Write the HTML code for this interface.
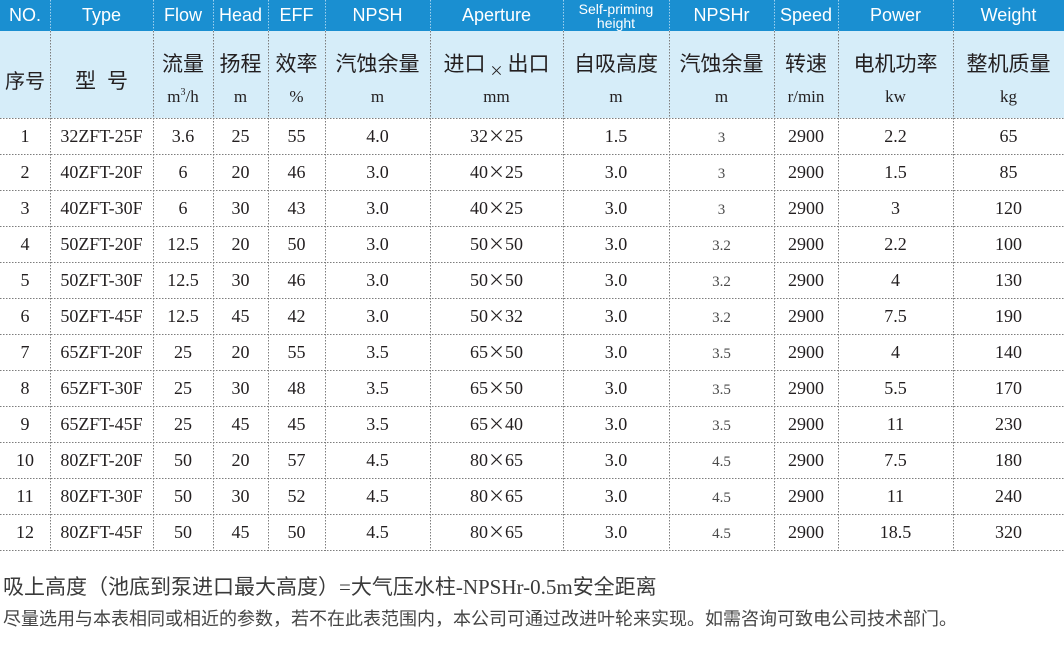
<!DOCTYPE html>
<html><head><meta charset="utf-8">
<style>
html,body{margin:0;padding:0;background:#fff;}
body{width:1064px;height:650px;overflow:hidden;position:relative;}
.abs{position:absolute;}
.bar1{left:0;top:0;width:1064px;height:31px;background:#1a8fd1;}
.bar2{left:0;top:31px;width:1064px;height:87px;background:#d6edf9;}
.row{position:absolute;left:0;width:1064px;display:flex;}
.row>div{flex:none;text-align:center;white-space:nowrap;}
.c0{width:50px}.c1{width:103px}.c2{width:60px}.c3{width:55px}.c4{width:57px}.c5{width:105px}
.c6{width:133px}.c7{width:106px}.c8{width:105px}.c9{width:64px}.c10{width:115px}.c11{width:111px}
.h1{top:0;height:31px;line-height:31px;color:#fff;font-family:"Liberation Sans",sans-serif;font-size:18px;}
.h1 .sp{font-size:14px;line-height:14px;padding-top:2px;box-sizing:border-box;}
.h2{top:50px;height:26px;line-height:26px;color:#231f20;font-family:"Noto Sans CJK SC",sans-serif;font-size:21px;}
.h3{top:87px;height:20px;line-height:20px;color:#231f20;font-family:"Liberation Serif",serif;font-size:17px;}
.h3 sup{font-size:10px;vertical-align:7px;line-height:0;}
.d{height:36px;line-height:36px;color:#231f20;font-family:"Liberation Serif",serif;font-size:18px;}
.d .c8{font-size:15px;color:#4a4a4a;padding-top:2px;box-sizing:border-box;}
.x{font-family:"Noto Sans CJK SC",sans-serif;font-size:17px;line-height:0;}
.note1{left:3px;top:574px;height:26px;line-height:26px;font-size:21px;color:#3a3a3a;font-family:"Liberation Serif","Noto Sans CJK SC",sans-serif;white-space:nowrap;}
.note1 .cj{font-family:"Noto Sans CJK SC",sans-serif;line-height:0;}
.note2{left:3px;top:606px;height:24px;line-height:24px;font-size:18px;color:#454545;font-family:"Noto Sans CJK SC",sans-serif;white-space:nowrap;}
</style></head>
<body>
<div class="abs bar1"></div>
<div class="abs bar2"></div>

<svg class="abs" style="left:0;top:0" width="1064" height="560" viewBox="0 0 1064 560">
<g stroke="#9fd0ef" stroke-width="1" stroke-dasharray="1.3 1.7" shape-rendering="crispEdges">
<line x1="50.5" y1="0" x2="50.5" y2="31"/><line x1="153.5" y1="0" x2="153.5" y2="31"/><line x1="213.5" y1="0" x2="213.5" y2="31"/><line x1="268.5" y1="0" x2="268.5" y2="31"/><line x1="325.5" y1="0" x2="325.5" y2="31"/><line x1="430.5" y1="0" x2="430.5" y2="31"/><line x1="563.5" y1="0" x2="563.5" y2="31"/><line x1="669.5" y1="0" x2="669.5" y2="31"/><line x1="774.5" y1="0" x2="774.5" y2="31"/><line x1="838.5" y1="0" x2="838.5" y2="31"/><line x1="953.5" y1="0" x2="953.5" y2="31"/>
</g>
<g stroke="#7d7d7d" stroke-width="1" stroke-dasharray="1.3 1.7" shape-rendering="crispEdges">
<line x1="50.5" y1="31" x2="50.5" y2="551"/><line x1="153.5" y1="31" x2="153.5" y2="551"/><line x1="213.5" y1="31" x2="213.5" y2="551"/><line x1="268.5" y1="31" x2="268.5" y2="551"/><line x1="325.5" y1="31" x2="325.5" y2="551"/><line x1="430.5" y1="31" x2="430.5" y2="551"/><line x1="563.5" y1="31" x2="563.5" y2="551"/><line x1="669.5" y1="31" x2="669.5" y2="551"/><line x1="774.5" y1="31" x2="774.5" y2="551"/><line x1="838.5" y1="31" x2="838.5" y2="551"/><line x1="953.5" y1="31" x2="953.5" y2="551"/>
<line x1="0" y1="118.5" x2="1064" y2="118.5"/><line x1="0" y1="154.5" x2="1064" y2="154.5"/><line x1="0" y1="190.5" x2="1064" y2="190.5"/><line x1="0" y1="226.5" x2="1064" y2="226.5"/><line x1="0" y1="262.5" x2="1064" y2="262.5"/><line x1="0" y1="298.5" x2="1064" y2="298.5"/><line x1="0" y1="334.5" x2="1064" y2="334.5"/><line x1="0" y1="370.5" x2="1064" y2="370.5"/><line x1="0" y1="406.5" x2="1064" y2="406.5"/><line x1="0" y1="442.5" x2="1064" y2="442.5"/><line x1="0" y1="478.5" x2="1064" y2="478.5"/><line x1="0" y1="514.5" x2="1064" y2="514.5"/><line x1="0" y1="550.5" x2="1064" y2="550.5"/>
</g>
</svg>

<div class="row h1">
<div class="c0">NO.</div><div class="c1">Type</div><div class="c2">Flow</div><div class="c3">Head</div><div class="c4">EFF</div><div class="c5">NPSH</div><div class="c6">Aperture</div><div class="c7 sp">Self-priming<br>height</div><div class="c8">NPSHr</div><div class="c9">Speed</div><div class="c10">Power</div><div class="c11">Weight</div>
</div>

<div class="abs" style="left:0;top:67px;width:50px;height:26px;line-height:26px;text-align:center;font-family:'Noto Sans CJK SC',sans-serif;font-size:20px;color:#231f20;">序号</div>
<div class="abs" style="left:50px;top:67px;width:103px;height:26px;line-height:26px;text-align:center;font-family:'Noto Sans CJK SC',sans-serif;font-size:21px;color:#231f20;">型<span style="display:inline-block;width:11px"></span>号</div>

<div class="row h2">
<div class="c0"></div><div class="c1"></div><div class="c2">流量</div><div class="c3">扬程</div><div class="c4">效率</div><div class="c5">汽蚀余量</div><div class="c6">进口<span style="font-size:14px;position:relative;top:5px;margin:0 4px;">×</span>出口</div><div class="c7">自吸高度</div><div class="c8">汽蚀余量</div><div class="c9">转速</div><div class="c10">电机功率</div><div class="c11">整机质量</div>
</div>
<div class="row h3">
<div class="c0"></div><div class="c1"></div><div class="c2">m<sup>3</sup>/h</div><div class="c3">m</div><div class="c4">%</div><div class="c5">m</div><div class="c6">mm</div><div class="c7">m</div><div class="c8">m</div><div class="c9">r/min</div><div class="c10">kw</div><div class="c11">kg</div>
</div>

<div class="row d" style="top:118px"><div class="c0">1</div><div class="c1">32ZFT-25F</div><div class="c2">3.6</div><div class="c3">25</div><div class="c4">55</div><div class="c5">4.0</div><div class="c6">32<span class="x">×</span>25</div><div class="c7">1.5</div><div class="c8">3</div><div class="c9">2900</div><div class="c10">2.2</div><div class="c11">65</div></div>
<div class="row d" style="top:154px"><div class="c0">2</div><div class="c1">40ZFT-20F</div><div class="c2">6</div><div class="c3">20</div><div class="c4">46</div><div class="c5">3.0</div><div class="c6">40<span class="x">×</span>25</div><div class="c7">3.0</div><div class="c8">3</div><div class="c9">2900</div><div class="c10">1.5</div><div class="c11">85</div></div>
<div class="row d" style="top:190px"><div class="c0">3</div><div class="c1">40ZFT-30F</div><div class="c2">6</div><div class="c3">30</div><div class="c4">43</div><div class="c5">3.0</div><div class="c6">40<span class="x">×</span>25</div><div class="c7">3.0</div><div class="c8">3</div><div class="c9">2900</div><div class="c10">3</div><div class="c11">120</div></div>
<div class="row d" style="top:226px"><div class="c0">4</div><div class="c1">50ZFT-20F</div><div class="c2">12.5</div><div class="c3">20</div><div class="c4">50</div><div class="c5">3.0</div><div class="c6">50<span class="x">×</span>50</div><div class="c7">3.0</div><div class="c8">3.2</div><div class="c9">2900</div><div class="c10">2.2</div><div class="c11">100</div></div>
<div class="row d" style="top:262px"><div class="c0">5</div><div class="c1">50ZFT-30F</div><div class="c2">12.5</div><div class="c3">30</div><div class="c4">46</div><div class="c5">3.0</div><div class="c6">50<span class="x">×</span>50</div><div class="c7">3.0</div><div class="c8">3.2</div><div class="c9">2900</div><div class="c10">4</div><div class="c11">130</div></div>
<div class="row d" style="top:298px"><div class="c0">6</div><div class="c1">50ZFT-45F</div><div class="c2">12.5</div><div class="c3">45</div><div class="c4">42</div><div class="c5">3.0</div><div class="c6">50<span class="x">×</span>32</div><div class="c7">3.0</div><div class="c8">3.2</div><div class="c9">2900</div><div class="c10">7.5</div><div class="c11">190</div></div>
<div class="row d" style="top:334px"><div class="c0">7</div><div class="c1">65ZFT-20F</div><div class="c2">25</div><div class="c3">20</div><div class="c4">55</div><div class="c5">3.5</div><div class="c6">65<span class="x">×</span>50</div><div class="c7">3.0</div><div class="c8">3.5</div><div class="c9">2900</div><div class="c10">4</div><div class="c11">140</div></div>
<div class="row d" style="top:370px"><div class="c0">8</div><div class="c1">65ZFT-30F</div><div class="c2">25</div><div class="c3">30</div><div class="c4">48</div><div class="c5">3.5</div><div class="c6">65<span class="x">×</span>50</div><div class="c7">3.0</div><div class="c8">3.5</div><div class="c9">2900</div><div class="c10">5.5</div><div class="c11">170</div></div>
<div class="row d" style="top:406px"><div class="c0">9</div><div class="c1">65ZFT-45F</div><div class="c2">25</div><div class="c3">45</div><div class="c4">45</div><div class="c5">3.5</div><div class="c6">65<span class="x">×</span>40</div><div class="c7">3.0</div><div class="c8">3.5</div><div class="c9">2900</div><div class="c10">11</div><div class="c11">230</div></div>
<div class="row d" style="top:442px"><div class="c0">10</div><div class="c1">80ZFT-20F</div><div class="c2">50</div><div class="c3">20</div><div class="c4">57</div><div class="c5">4.5</div><div class="c6">80<span class="x">×</span>65</div><div class="c7">3.0</div><div class="c8">4.5</div><div class="c9">2900</div><div class="c10">7.5</div><div class="c11">180</div></div>
<div class="row d" style="top:478px"><div class="c0">11</div><div class="c1">80ZFT-30F</div><div class="c2">50</div><div class="c3">30</div><div class="c4">52</div><div class="c5">4.5</div><div class="c6">80<span class="x">×</span>65</div><div class="c7">3.0</div><div class="c8">4.5</div><div class="c9">2900</div><div class="c10">11</div><div class="c11">240</div></div>
<div class="row d" style="top:514px"><div class="c0">12</div><div class="c1">80ZFT-45F</div><div class="c2">50</div><div class="c3">45</div><div class="c4">50</div><div class="c5">4.5</div><div class="c6">80<span class="x">×</span>65</div><div class="c7">3.0</div><div class="c8">4.5</div><div class="c9">2900</div><div class="c10">18.5</div><div class="c11">320</div></div>

<div class="abs note1"><span class="cj">吸上高度（池底到泵进口最大高度）</span>=<span class="cj">大气压水柱</span>-NPSHr-0.5m<span class="cj">安全距离</span></div>
<div class="abs note2">尽量选用与本表相同或相近的参数，若不在此表范围内，本公司可通过改进叶轮来实现。如需咨询可致电公司技术部门。</div>
</body></html>
